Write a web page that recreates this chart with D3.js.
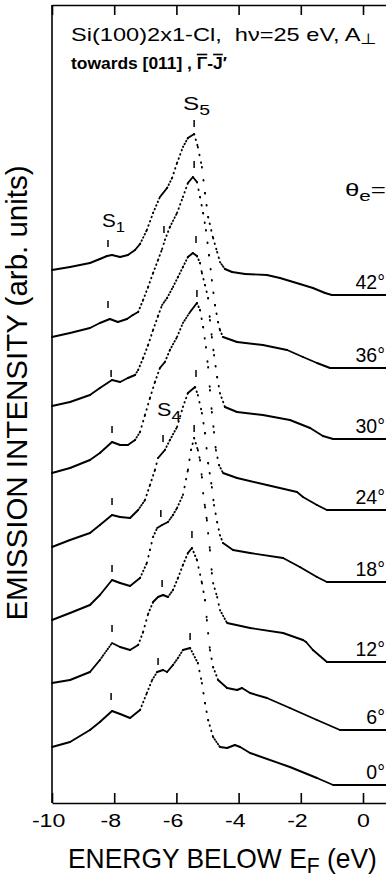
<!DOCTYPE html>
<html>
<head>
<meta charset="utf-8">
<script src="https://cdn.jsdelivr.net/npm/d3@7"></script>
<style>
  html, body { margin: 0; padding: 0; background: #fff; }
  svg { display: block; }
  text { font-family: "Liberation Sans", Arial, Helvetica, sans-serif; fill: #000; }
</style>
</head>
<body>
<svg id="chart" width="386" height="879"></svg>
<script>
// Photoemission spectra, Si(100)2x1-Cl, hv = 25 eV, for several emission angles.
// Each spectrum: [energy relative to E_F (eV), intensity above its own offset (arb. units)]
const angleLabels = ["42°", "36°", "30°", "24°", "18°", "12°", "6°", "0°"];
const offsets = [508, 435, 364, 293, 221, 141, 73, 18];

const spec42 = [[-10.0,25],[-9.42,28],[-8.78,32],[-8.46,36],[-8.23,39],[-8.07,40],[-7.81,38],[-7.56,40],[-7.33,45],[-7.17,51],[-6.95,65],[-6.75,82],[-6.53,98],[-6.30,107],[-6.14,117],[-5.98,132],[-5.79,148],[-5.63,157],[-5.43,161],[-5.31,148],[-5.18,128],[-5.08,102],[-4.98,78],[-4.82,57],[-4.69,43],[-4.60,33],[-4.44,26],[-4.21,23],[-3.79,21],[-3.09,20],[-2.67,17],[-2.35,14],[-2.03,11],[-1.61,7],[-1.22,2],[-1.00,0],[0.80,0]];
const spec36 = [[-10.0,31],[-9.42,35],[-8.78,40],[-8.46,45],[-8.14,49],[-7.88,46],[-7.59,49],[-7.40,53],[-7.23,56],[-7.07,68],[-6.91,81],[-6.75,95],[-6.59,108],[-6.46,119],[-6.37,128],[-6.21,141],[-5.98,155],[-5.79,171],[-5.63,185],[-5.47,191],[-5.34,186],[-5.24,171],[-5.14,155],[-5.05,138],[-4.95,113],[-4.86,88],[-4.76,63],[-4.66,46],[-4.60,38],[-4.50,31],[-4.05,26],[-3.22,23],[-2.44,18],[-1.93,11],[-1.48,5],[-1.06,0],[0.80,0]];
const spec30 = [[-10.0,33],[-9.42,37],[-8.78,44],[-8.46,51],[-8.07,59],[-7.81,57],[-7.56,61],[-7.33,64],[-7.23,69],[-7.07,81],[-6.91,94],[-6.75,109],[-6.59,123],[-6.46,134],[-6.30,141],[-6.11,152],[-5.95,162],[-5.79,172],[-5.63,182],[-5.47,186],[-5.34,183],[-5.24,176],[-5.18,166],[-5.08,154],[-4.98,141],[-4.92,119],[-4.86,102],[-4.79,84],[-4.69,62],[-4.60,46],[-4.44,32],[-4.05,27],[-3.22,24],[-2.35,19],[-1.70,11],[-1.29,3],[-0.96,0],[0.80,0]];
const spec24 = [[-10.0,37],[-9.42,42],[-8.78,50],[-8.46,57],[-8.07,68],[-7.81,65],[-7.56,65],[-7.33,70],[-7.17,78],[-7.01,95],[-6.85,112],[-6.69,128],[-6.53,142],[-6.37,148],[-6.21,160],[-5.98,173],[-5.79,187],[-5.56,198],[-5.34,207],[-5.24,200],[-5.14,183],[-5.05,163],[-4.98,143],[-4.92,120],[-4.86,98],[-4.79,78],[-4.73,60],[-4.63,45],[-4.50,37],[-4.05,32],[-3.09,25],[-2.12,18],[-1.93,13],[-1.48,5],[-1.16,0],[0.80,0]];
const spec18 = [[-10.0,35],[-9.42,42],[-8.78,49],[-8.46,57],[-8.07,67],[-7.81,65],[-7.49,64],[-7.23,72],[-7.01,82],[-6.85,97],[-6.69,112],[-6.59,124],[-6.37,132],[-6.21,142],[-5.98,155],[-5.79,175],[-5.63,189],[-5.40,195],[-5.31,187],[-5.18,169],[-5.08,149],[-4.98,119],[-4.86,95],[-4.79,77],[-4.69,60],[-4.60,47],[-4.50,39],[-4.18,32],[-3.63,29],[-2.57,24],[-2.03,15],[-1.48,5],[-1.16,0],[0.80,0]];
const spec12 = [[-10.0,42],[-9.42,49],[-8.78,57],[-8.46,67],[-8.07,82],[-7.81,79],[-7.49,76],[-7.17,84],[-6.95,99],[-6.85,112],[-6.75,125],[-6.62,134],[-6.46,137],[-6.27,140],[-6.11,147],[-5.98,154],[-5.79,167],[-5.63,192],[-5.53,212],[-5.43,224],[-5.31,212],[-5.24,202],[-5.18,185],[-5.14,169],[-5.08,155],[-5.02,142],[-4.98,129],[-4.92,112],[-4.86,89],[-4.82,79],[-4.69,65],[-4.60,52],[-4.37,39],[-3.63,34],[-2.57,29],[-1.93,22],[-1.83,20],[-1.61,12],[-1.16,0],[0.80,0]];
const spec06 = [[-10.0,47],[-9.42,50],[-8.78,58],[-8.46,70],[-8.07,87],[-7.81,83],[-7.49,80],[-7.23,85],[-7.07,98],[-6.91,116],[-6.75,128],[-6.59,133],[-6.43,135],[-6.27,133],[-6.11,140],[-5.95,152],[-5.79,165],[-5.63,177],[-5.50,182],[-5.34,170],[-5.18,147],[-5.08,130],[-5.02,110],[-4.98,97],[-4.92,80],[-4.82,63],[-4.66,50],[-4.37,42],[-4.05,40],[-3.89,42],[-3.63,37],[-3.09,32],[-2.35,22],[-1.48,10],[-0.74,0],[0.80,0]];
const spec00 = [[-10.0,38],[-9.42,43],[-8.78,55],[-8.46,63],[-8.07,74],[-7.81,71],[-7.49,67],[-7.17,75],[-6.95,92],[-6.78,105],[-6.62,113],[-6.43,115],[-6.30,113],[-6.11,120],[-5.95,127],[-5.79,135],[-5.56,137],[-5.31,122],[-5.18,102],[-5.08,82],[-4.98,65],[-4.82,48],[-4.60,38],[-4.37,37],[-4.12,40],[-3.95,38],[-3.63,32],[-2.35,18],[-1.48,7],[-0.96,0],[0.80,0]];
const spectra = [spec42, spec36, spec30, spec24, spec18, spec12, spec06, spec00];

// Feature markers (S1, S4, S5): [energy, intensity of the marker foot above the offset]
const markS1 = [[-8.20,48],[-8.20,60],[-8.10,62],[-8.07,77],[-8.07,77],[-8.07,90],[-8.07,98],[-8.10,85]];
const markS4 = [null,[-6.40,135],null,null,[-6.43,140],[-6.50,145],[-6.46,143],[-6.59,120]];
const markS5 = [[-5.43,168],[-5.43,200],[-5.37,196],[-5.34,213],[-5.37,205],[-5.43,230],[-5.50,192],[-5.56,145]];

const xTicks = [-10, -8, -6, -4, -2, 0];

const svg = d3.select("#chart");

const x = d3.scaleLinear().domain([-10, 0.8]).range([52, 52 + 31.1 * 10.8]);
const y = d3.scaleLinear().domain([0, 798]).range([803, 5]);

// ---- frame and ticks ----
svg.append("line").attr("stroke", "#000").attr("stroke-width", 1.6)
  .attr("x1", x(-10)).attr("x2", x(-10)).attr("y1", y(0)).attr("y2", y(798));

const axB = svg.append("g").attr("transform", `translate(0,${y(0)})`)
  .call(d3.axisBottom(x).tickValues(xTicks).tickSizeInner(-10).tickSizeOuter(0).tickPadding(11).tickFormat(d3.format("d")));
const axT = svg.append("g").attr("transform", `translate(0,${y(798)})`)
  .call(d3.axisTop(x).tickValues(xTicks).tickSizeInner(-10).tickSizeOuter(0).tickFormat(""));
[axB, axT].forEach(a => {
  a.select(".domain").attr("stroke", "#000").attr("stroke-width", 1.6);
  a.selectAll(".tick line").attr("stroke", "#000").attr("stroke-width", 1.6);
});
axB.selectAll(".tick text")
  .attr("font-family", '"Liberation Sans", Arial, sans-serif')
  .attr("font-size", 19)
  .attr("fill", "#000")
  .text(d => d < 0 ? "-" + Math.abs(d) : String(d))
  .each(function (d) {
    // widen glyphs; the digits sit centred on the tick, a leading minus hangs to the left
    const t = d3.select(this);
    const sx = 1.22;
    const full = this.getComputedTextLength();
    t.text(String(Math.abs(d)));
    const digits = this.getComputedTextLength();
    t.text(d < 0 ? "-" + Math.abs(d) : String(d));
    const shift = -(full - digits) / 2 * sx;
    t.attr("transform", `translate(${shift},0) scale(${sx},1)`);
  });

// ---- spectra: channels are closely spaced, so steep stretches show as separate dots ----
const STEP = 1.55;
const gSpec = svg.append("g");
spectra.forEach((s, i) => {
  const pts = s.map(d => [x(d[0]), y(offsets[i] + d[1])]);
  gSpec.append("g").selectAll("line").data(d3.pairs(pts)).join("line")
    .attr("x1", d => d[0][0]).attr("y1", d => d[0][1])
    .attr("x2", d => d[1][0]).attr("y2", d => d[1][1])
    .attr("stroke", "#000").attr("stroke-width", 1.9).attr("stroke-linecap", "round")
    .attr("stroke-dasharray", d => {
      const dx = d[1][0] - d[0][0], dy = d[1][1] - d[0][1];
      const period = STEP * Math.hypot(1, dy / dx);
      return period < 2.6 ? null : `0.6 ${period - 0.6}`;
    });
});

// ---- feature markers ----
const marks = [];
[markS1, markS4, markS5].forEach(list => list.forEach((m, i) => { if (m) marks.push({ e: m[0], v: offsets[i] + m[1] }); }));
svg.append("g").selectAll("line").data(marks).join("line")
  .attr("x1", d => x(d.e)).attr("x2", d => x(d.e))
  .attr("y1", d => y(d.v)).attr("y2", d => y(d.v + 7))
  .attr("stroke", "#000").attr("stroke-width", 1.5);

// ---- text helper: parts = [string, baseline shift, size factor, decoration] ----
function label(px, py, parts, size, opts = {}) {
  const t = svg.append("text").attr("font-size", size).attr("xml:space", "preserve");
  if (opts.weight) t.attr("font-weight", opts.weight);
  let prev = 0;
  parts.forEach(([str, shift = 0, f = 1, deco]) => {
    const ts = t.append("tspan").attr("font-size", size * f).attr("dy", shift - prev).text(str);
    if (deco) ts.attr("text-decoration", deco);
    prev = shift;
  });
  const w = t.node().getComputedTextLength();
  const sx = opts.width ? opts.width / w : (opts.sx || 1);
  const anchor = opts.anchor || "start";
  const x0 = anchor === "end" ? px - w * sx : anchor === "middle" ? px - w * sx / 2 : px;
  t.attr("transform", `translate(${x0},${py}) scale(${sx},1)`);
  return t;
}

label(71, 41, [["Si(100)2x1-Cl,\u00a0 h\u03bd=25 eV, A"], ["\u22a5", 3, 0.8]], 18.6, { width: 306 });
label(71, 69, [["towards [011] , "], ["\u0393", 0, 1, "overline"], ["-"], ["J", 0, 1, "overline"], ["\u2032"]], 16, { width: 156, weight: "bold" });

label(183, 110, [["S"], ["5", 5, 0.8]], 19, { width: 27 });
label(102, 227, [["S"], ["1", 5, 0.8]], 19, { width: 23 });
label(157, 416, [["S"], ["4", 5, 0.8]], 19, { width: 24 });
label(345, 196, [["\u03b8"], ["e", 5, 0.8], ["="]], 19, { width: 41 });

angleLabels.forEach((a, i) => {
  label(385, y(offsets[i]) - 6, [[a]], 19.5, { anchor: "end" });
});

// axis titles
label(68, 868, [["ENERGY BELOW E"], ["F", 5, 0.8], [" (eV)"]], 27, { width: 309 });
svg.append("text").attr("font-size", 29.5).attr("text-anchor", "middle")
  .attr("transform", "translate(27,393) rotate(-90)")
  .text("EMISSION INTENSITY (arb. units)");
</script>
</body>
</html>
